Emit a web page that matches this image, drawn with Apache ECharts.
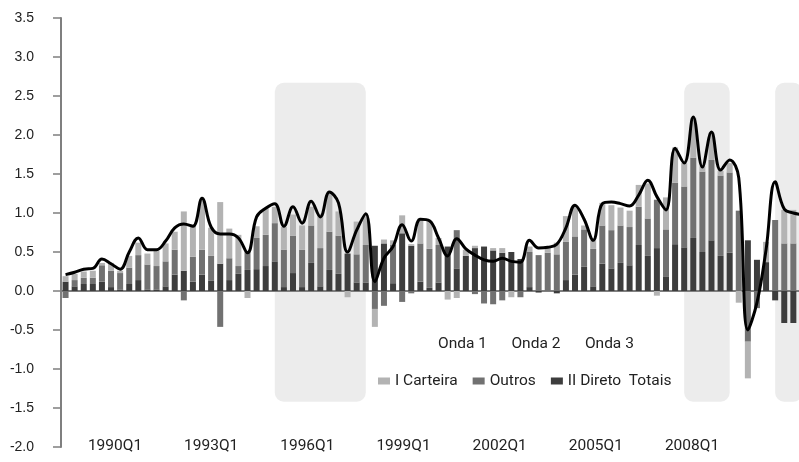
<!DOCTYPE html>
<html><head><meta charset="utf-8">
<script src="https://cdn.jsdelivr.net/npm/echarts@6/dist/echarts.min.js"></script>
<style>html,body{margin:0;padding:0;background:#fff}#c{width:799px;height:462px}</style>
</head><body><div id="c"></div>
<script>
// quarterly categories, 1990Q1 onward (last one falls just outside the cropped frame)
const categories = [];
for (let k = 0; k < 82; k++) categories.push((1990 + Math.floor(k / 4)) + 'Q' + (k % 4 + 1));

const xTickLabels = ['1990Q1','1993Q1','1996Q1','1999Q1','2002Q1','2005Q1','2008Q1'];

const direto = [0.12,0.06,0.09,0.09,0.12,0.05,0.02,0.09,0.14,0.02,
  0.02,0.06,0.21,0.26,0.12,0.21,0.13,0.35,0.14,0.22,
  0.27,0.28,0.32,0.38,0.05,0.23,0.05,0.36,0.06,0.27,
  0.22,0.48,0.11,0.11,0.58,0.61,0.10,0.74,0.58,0.12,
  0.04,0.11,0.57,0.29,0.45,0.55,0.57,0.52,0.49,0.50,
  0.41,0.05,-0.02,0,-0.03,0.14,0.21,0.31,0.06,0.35,
  0.29,0.36,0.33,0.59,0.45,0.55,0.18,0.60,0.56,0.68,
  0.50,0.65,0.45,0.49,0,0.65,0.40,0.37,-0.12,-0.41,
  -0.41,-0.41];
const outros = [-0.09,0.08,0.08,0.08,0.21,0.21,0.21,0.21,0.32,0.32,
  0.30,0.32,0.32,-0.12,0.32,0.32,0.32,-0.46,0.28,0.10,
  0.24,0.40,0.40,0.49,0.48,0.48,0.48,0.48,0.49,0.49,
  0.49,0,0.36,0.48,-0.23,-0.19,0.49,-0.14,-0.03,0.49,
  0.50,0.48,0,0.49,0,-0.04,-0.16,-0.17,-0.12,0,
  -0.08,0.45,0.46,0.49,0.47,0.49,0.49,0.48,0.48,0.49,
  0.49,0.48,0.49,0.49,0.48,0.62,0.61,0.79,0.78,1.03,
  1.03,1.03,1.03,1.03,1.03,-0.65,-0.22,0,0.91,0.61,
  0.61,0.61];
const carteira = [0.07,0.08,0.08,0.09,0.03,0.10,0.03,0.15,0.16,0.14,
  0.20,0.23,0.23,0.76,0.41,0.64,0.36,0.79,0.38,0.40,
  -0.09,0.15,0.34,0.21,0.29,0.27,0.31,0.24,0.44,0.49,
  0.31,-0.08,0.42,0.38,-0.23,0.05,0.06,0.23,0.02,0.32,
  0.35,0.09,-0.11,-0.09,0.08,0.03,0,0.03,0.06,-0.08,
  0,0.07,0,0.08,0.15,0.33,0.39,0.05,0.11,0.29,
  0.32,0.23,0.21,0.28,0.45,-0.06,0.41,0.45,0.30,0.51,
  0.07,0.35,0.06,0.12,-0.15,-0.47,0,0.26,0,0.43,
  0.43,0.40];
const totais = [0.21,0.24,0.28,0.29,0.41,0.35,0.28,0.50,0.68,0.53,
  0.53,0.64,0.81,0.86,0.83,1.19,0.82,0.73,0.73,0.68,
  0.49,0.95,1.06,1.12,0.83,1.08,0.87,1.15,0.95,1.27,
  1.13,0.50,0.78,0.99,0.12,0.42,0.57,0.85,0.64,0.92,
  0.90,0.68,0.45,0.67,0.54,0.46,0.40,0.38,0.42,0.38,
  0.37,0.65,0.55,0.56,0.60,0.81,1.10,0.92,0.65,1.12,
  1.14,1.12,1.09,1.23,1.42,1.21,1.04,1.83,1.64,2.23,
  1.59,2.04,1.55,1.68,1.45,-0.50,-0.15,0.53,1.40,1.05,
  1.00,0.98];

const ondaNames = ['Onda 1','Onda 2','Onda 3'];
const ondaStart = ['1995Q4','2007Q1','2009Q3'];
const ondaEnd   = ['1998Q2','2008Q2','2010Q2'];

// styling constants
const SHADE_TOP = 2.67, SHADE_BOTTOM = -1.42;
const LBL_FONT = 'Roboto, "Liberation Sans", sans-serif';
const C_LIGHT = '#b3b3b3', C_MID = '#717171', C_DARK = '#3d3d3d';

const ondaSeries = ondaNames.map((n, k) => ({
  name: n, type: 'custom', xAxisIndex: 0, yAxisIndex: 0, z: 0,
  itemStyle: {color: '#ececec'},
  data: [[categories.indexOf(ondaStart[k]), categories.indexOf(ondaEnd[k])]],
  renderItem: (params, api) => {
    const p0 = api.coord([api.value(0), SHADE_TOP]);
    const p1 = api.coord([api.value(1), SHADE_BOTTOM]);
    return {type: 'rect', shape: {x: p0[0], y: p0[1], width: p1[0] - p0[0], height: p1[1] - p0[1], r: 9},
            style: {fill: '#ececec'}};
  }
}));

// label axis: quarters from first to last tick label
const quarterLabelAxis = [];
const y0 = parseInt(xTickLabels[0]), y1 = parseInt(xTickLabels[xTickLabels.length - 1]);
for (let y = y0; y <= y1; y++) for (let q = 1; q <= 4; q++) {
  if (y === y1 && q > 1) break;
  quarterLabelAxis.push(y + 'Q' + q);
}

const chart = echarts.init(document.getElementById('c'), null, {renderer: 'canvas'});
chart.setOption({
  animation: false,
  backgroundColor: '#fff',
  grid: [
    {left: 61, width: 746, top: 18, height: 429, containLabel: false, outerBoundsMode: 'none'},
    {left: 115, width: 577, top: 420, height: 10, outerBoundsMode: 'none'}
  ],
  legend: [
    {data: ondaNames, left: 414, top: 331, itemWidth: 14, itemHeight: 8, itemGap: 5.5,
     itemStyle: {opacity: 0}, textStyle: {fontFamily: LBL_FONT, fontSize: 15.5, color: '#222'}},
    {data: ['I Carteira','Outros','II Direto'], left: 373, top: 368, itemWidth: 12, itemHeight: 7, itemGap: 15,
     icon: 'rect', textStyle: {fontFamily: LBL_FONT, fontSize: 15.5, color: '#222'}},
    {data: ['Totais'], left: 616, top: 368, itemWidth: 0, itemHeight: 7, itemStyle: {opacity: 0},
     textStyle: {fontFamily: LBL_FONT, fontSize: 15.5, color: '#222'}}
  ],
  xAxis: [
    {type: 'category', gridIndex: 0, data: categories, boundaryGap: true,
     axisLine: {onZero: true, lineStyle: {color: '#7f7f7f', width: 2}},
     axisTick: {show: false}, axisLabel: {show: false}, splitLine: {show: false}},
    {type: 'category', gridIndex: 1, data: quarterLabelAxis, boundaryGap: false,
     axisLine: {show: false}, axisTick: {show: false}, splitLine: {show: false},
     axisLabel: {interval: 11, margin: 8, fontFamily: LBL_FONT, fontSize: 15.5, color: '#222'}}
  ],
  yAxis: [
    {type: 'value', gridIndex: 0, min: -2, max: 3.5, interval: 0.5,
     axisLine: {show: true, lineStyle: {color: '#7f7f7f', width: 2}},
     axisTick: {show: true, length: 8, lineStyle: {color: '#7f7f7f', width: 1.5}},
     splitLine: {show: false},
     axisLabel: {margin: 27, fontFamily: '"Liberation Sans",Arial,sans-serif', fontSize: 14, color: '#222',
                 formatter: v => v.toFixed(1)}},
    {type: 'value', gridIndex: 1, show: false}
  ],
  series: [
    ...ondaSeries,
    {name: 'II Direto', type: 'bar', stack: 'f', barWidth: 6, z: 2, itemStyle: {color: C_DARK}, data: direto},
    {name: 'Outros', type: 'bar', stack: 'f', barWidth: 6, z: 2, itemStyle: {color: C_MID}, data: outros},
    {name: 'I Carteira', type: 'bar', stack: 'f', barWidth: 6, z: 2, itemStyle: {color: C_LIGHT}, data: carteira},
    {name: 'Totais', type: 'line', smooth: 0.4, symbol: 'none', z: 5,
     lineStyle: {color: '#000', width: 3}, itemStyle: {color: '#000'}, data: totais}
  ]
});
</script></body></html>
